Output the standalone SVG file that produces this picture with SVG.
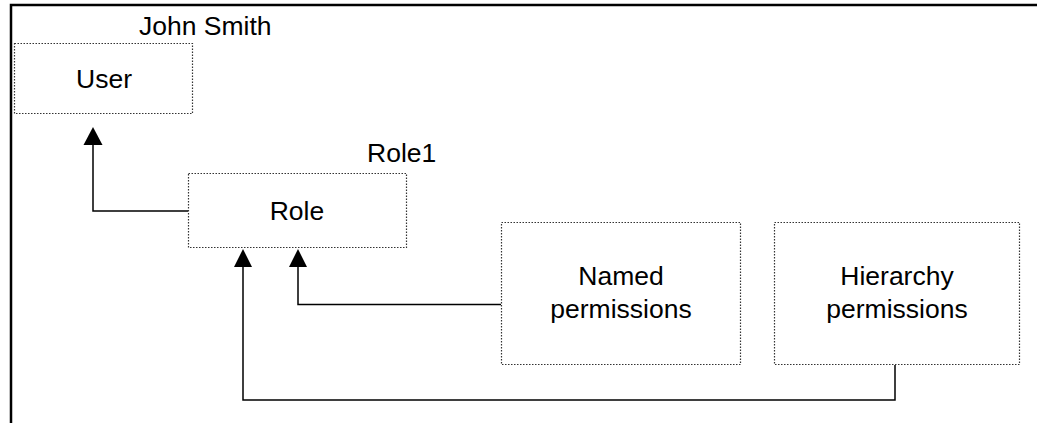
<svg xmlns="http://www.w3.org/2000/svg" width="1037" height="423" viewBox="0 0 1037 423">
<style>
.box{fill:#fff;stroke:#333;stroke-width:1.2;stroke-dasharray:1.5 1.5}
.t{font-family:"Liberation Sans",Arial,sans-serif;font-size:26.5px;fill:#000}
.c{text-anchor:middle}
.conn{fill:none;stroke:#000;stroke-width:1.5}
.frame{fill:none;stroke:#000;stroke-width:2.5}
</style>
<path class="frame" d="M11,423 V5 H1037"/>
<g id="user">
<rect class="box" x="14.5" y="43.5" width="178" height="70"/>
<text class="t c" x="104" y="88">User</text>
<text class="t" x="139" y="35">John Smith</text>
</g>
<g id="role">
<rect class="box" x="188.5" y="173.5" width="218" height="74"/>
<text class="t c" x="297" y="220">Role</text>
<text class="t" x="367" y="162">Role1</text>
</g>
<g id="named">
<rect class="box" x="501.5" y="222.5" width="239" height="142"/>
<text class="t c" x="621" y="285">Named</text>
<text class="t c" x="621" y="318">permissions</text>
</g>
<g id="hierarchy">
<rect class="box" x="774.5" y="222.5" width="245" height="142"/>
<text class="t c" x="897" y="285">Hierarchy</text>
<text class="t c" x="897" y="318">permissions</text>
</g>
<g id="connectors">
<path class="conn" d="M188,211 H93 V145"/>
<polygon points="93,127 83.5,145 102.5,145" fill="#000"/>
<path class="conn" d="M501,304.5 H298 V267"/>
<polygon points="298,249 289,267 307,267" fill="#000"/>
<path class="conn" d="M895,365 V400 H243 V267"/>
<polygon points="243,249 234,267 252,267" fill="#000"/>
</g>
</svg>
